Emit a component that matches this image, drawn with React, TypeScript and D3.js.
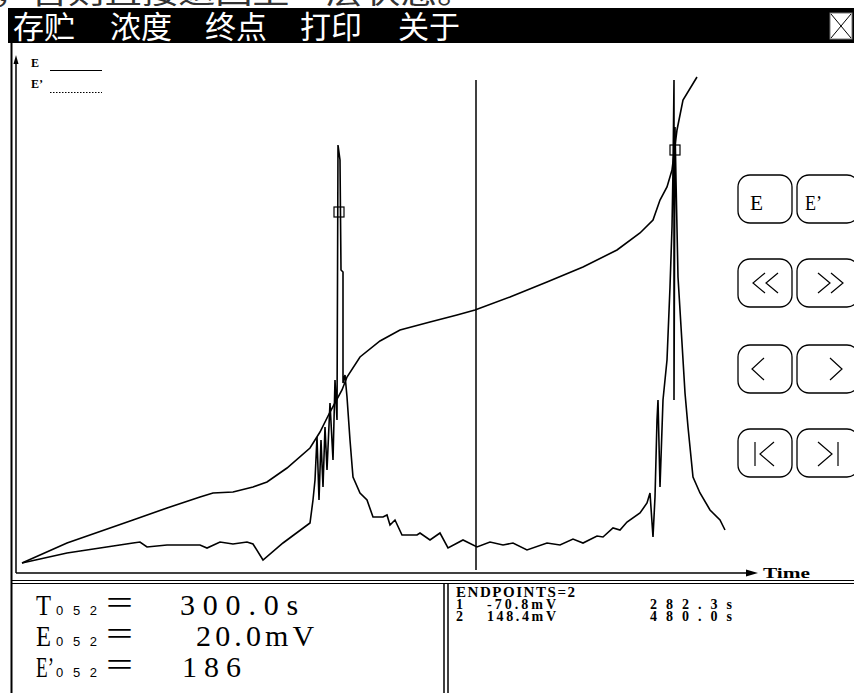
import React from 'react';
import * as d3 from 'd3';

// menu bar
const menuItems = ['存贮', '浓度', '终点', '打印', '关于'];
const menuX = [13, 110, 205, 300, 398];

// E curve (titration potential), time in s, value in mV-ish units
const eTime = [0, 22.5, 55.5, 72.5, 89, 95.5, 105.5, 115.5, 122.5, 132.5, 144, 149, 154, 160, 162.5, 169, 179, 189, 204, 217.5, 226.5, 244, 262.5, 280.5, 297.5, 309, 315.5, 319, 322.5, 325, 327.5, 330.5, 337.5];
const eValue = [1, 11, 22.5, 28.5, 34, 36, 36.5, 39, 41.5, 48.5, 58.5, 66.5, 76.5, 87.5, 94, 104, 112, 117.5, 121.5, 125, 127.5, 134, 141.5, 149, 157.5, 166, 172.5, 182.5, 189, 197.5, 217.5, 232.5, 244];

// E' curve (first derivative)
const dTime = [0, 22.5, 39, 55.5, 59, 62.5, 72.5, 89, 92.5, 99, 105.5, 112.5, 115.5, 120.5, 130.5, 144, 145.5, 146.5, 147.5, 148.5, 149.5, 150.5, 151.5, 152.5, 154, 155.5, 156.5, 157.5, 158, 159, 159.5, 160.5, 160.5, 161.5, 162.5, 164, 165, 165.5, 169, 172.5, 175.5, 180.5, 182.5, 184, 186.5, 190, 197.5, 199, 204, 209, 213, 220.5, 227.5, 234, 240.5, 245.5, 252.5, 262.5, 269, 275.5, 280.5, 287.5, 290.5, 295.5, 299, 302.5, 309, 312.5, 314, 315.5, 316.5, 317.5, 318, 319, 320.5, 322.5, 324, 325, 325.5, 326, 326, 326.5, 327, 328, 330, 331.5, 333, 335.5, 339, 344, 349, 351.5];
const dValue = [1, 6, 8.5, 11, 11.5, 9, 10, 10, 8.5, 11.5, 10.5, 11.5, 10.5, 2.5, 11, 21, 32.5, 42.5, 64, 32.5, 62.5, 39, 69, 47.5, 81, 52.5, 92.5, 72.5, 210, 202.5, 147.5, 146.5, 91, 95, 84, 62.5, 50, 44, 36, 32.5, 24, 24, 25, 20, 22.5, 15, 15, 16, 12.5, 16, 8.5, 12.5, 9, 11.5, 10, 11, 7.5, 11, 10, 13, 11, 14.5, 14, 18.5, 17.5, 21.5, 26, 31, 36, 14, 34, 72.5, 82.5, 39, 82.5, 102.5, 139, 169, 197.5, 242.5, 82.5, 219, 192.5, 144, 111, 86, 69, 44, 36, 27.5, 22.5, 17.5];

// endpoint markers and cursor
const endTime = [158.5, 326.5];
const endDeriv = [176.5, 207.5];
const cursorTime = 227;

// read-out panels
const readLabels = ['T', 'E', 'E’'];
const readValues = ['300.0s', '20.0mV', '186'];
const readValueX = [180, 196, 182];
const endpointRows = [
  ['1', '-70.8mV', '282.3s'],
  ['2', '148.4mV', '480.0s'],
];

const x = d3.scaleLinear().domain([0, 358]).range([22, 738]);
const y = d3.scaleLinear().domain([0, 260]).range([565, 45]);

const lineGen = d3.line<[number, number]>().x(d => x(d[0])).y(d => y(d[1]));
const ePath = lineGen(eTime.map((t, i) => [t, eValue[i]]));
const dPath = lineGen(dTime.map((t, i) => [t, dValue[i]]));

const chev = (cx: number, cy: number, dir: number, w = 12, h = 20) =>
  `M${cx - dir * w / 2},${cy - h / 2}L${cx + dir * w / 2},${cy}L${cx - dir * w / 2},${cy + h / 2}`;

const btnRows = [175, 259, 345, 429];

const serif = '"Liberation Serif", serif';

export default function App() {
  return (
    <svg width={854} height={693} style={{ position: 'absolute', left: 0, top: 0, background: '#fff' }}>
      <defs>
        <clipPath id="topclip"><rect x={0} y={0} width={854} height={8} /></clipPath>
      </defs>
      <g clipPath="url(#topclip)">
        <text x={-6} y={3} fontFamily='"Noto Sans CJK SC"' fontSize={30} fill="#333"
          textLength={480} lengthAdjust="spacingAndGlyphs">
          ，否则直接返回上一层状态。
        </text>
      </g>

      {/* menu bar */}
      <rect x={8} y={8} width={846} height={35} fill="#000" />
      {menuItems.map((m, i) => (
        <text key={m} x={menuX[i]} y={38} fill="#fff" fontFamily='"Noto Sans CJK SC"' fontSize={31}
          textLength={62} lengthAdjust="spacingAndGlyphs">{m}</text>
      ))}
      <rect x={830} y={13} width={22} height={26} fill="#fff" stroke="#777" />
      <path d="M831,14L851,38M851,14L831,38" stroke="#000" strokeWidth={1} />

      {/* plot frame */}
      <line x1={11.5} y1={43} x2={11.5} y2={693} stroke="#000" strokeWidth={2} />
      <line x1={16} y1={60} x2={16} y2={573} stroke="#000" strokeWidth={1.5} />
      <path d="M16,55L13.5,64L18.5,64Z" fill="#000" />
      <line x1={16} y1={573} x2={748} y2={573} stroke="#000" strokeWidth={1.5} />
      <path d="M758,573L746,569.5L746,576.5Z" fill="#000" />
      <text x={763} y={578} fontFamily={serif} fontWeight="bold" fontSize={15} textLength={47} lengthAdjust="spacingAndGlyphs">Time</text>

      {/* legend */}
      <text x={31} y={67} fontFamily={serif} fontWeight="bold" fontSize={12}>E</text>
      <line x1={50} y1={70.5} x2={102} y2={70.5} stroke="#000" strokeWidth={1} />
      <text x={31} y={88} fontFamily={serif} fontWeight="bold" fontSize={12}>E’</text>
      <line x1={50} y1={92.5} x2={102} y2={92.5} stroke="#000" strokeWidth={1} strokeDasharray="1.5,1.5" />

      {/* cursor */}
      <line x1={x(cursorTime)} y1={80} x2={x(cursorTime)} y2={570} stroke="#000" strokeWidth={1.5} />

      {/* curves */}
      <path d={ePath ?? ''} fill="none" stroke="#000" strokeWidth={1.6} />
      <path d={dPath ?? ''} fill="none" stroke="#000" strokeWidth={1.6} />
      {endTime.map((t, i) => (
        <rect key={i} x={x(t) - 5} y={y(endDeriv[i]) - 5} width={10} height={10} fill="none" stroke="#000" strokeWidth={1.2} />
      ))}

      {/* buttons */}
      {btnRows.map((by, r) => (
        <g key={r} fill="none" stroke="#000" strokeWidth={1.3}>
          <rect x={738} y={by} width={54} height={48} rx={12} />
          <rect x={797} y={by} width={62} height={48} rx={12} />
        </g>
      ))}
      <text x={750} y={210} fontFamily={serif} fontSize={22} textLength={13} lengthAdjust="spacingAndGlyphs">E</text>
      <text x={805} y={210} fontFamily={serif} fontSize={22} textLength={17} lengthAdjust="spacingAndGlyphs">E’</text>
      <g fill="none" stroke="#000" strokeWidth={1.2}>
        <path d={chev(759, 283, -1)} />
        <path d={chev(772, 283, -1)} />
        <path d={chev(824, 283, 1)} />
        <path d={chev(837, 283, 1)} />
        <path d={chev(758, 369, -1, 12, 22)} />
        <path d={chev(836, 369, 1, 12, 22)} />
        <path d={chev(767, 454, -1, 14, 24)} />
        <path d="M755,442L755,466" />
        <path d={chev(825, 454, 1, 14, 24)} />
        <path d="M838,442L838,466" />
      </g>

      {/* bottom panels */}
      <line x1={11} y1={580.5} x2={854} y2={580.5} stroke="#000" strokeWidth={1.2} />
      <line x1={11} y1={583.5} x2={854} y2={583.5} stroke="#000" strokeWidth={1.2} />
      <line x1={444} y1={583} x2={444} y2={693} stroke="#000" strokeWidth={1.5} />
      <line x1={448} y1={583} x2={448} y2={693} stroke="#000" strokeWidth={1.5} />

      {readLabels.map((lab, i) => {
        const base = [615, 646, 677][i];
        return (
          <g key={lab} fontFamily={serif}>
            <text x={36} y={base} fontSize={29} textLength={lab.length > 1 ? 18 : 15} lengthAdjust="spacingAndGlyphs">{lab}</text>
            <text x={56} y={base} fontFamily='"Liberation Sans", sans-serif' fontSize={13} textLength={41} lengthAdjust="spacing">052</text>
            <text x={106} y={base - 1} fontSize={34} textLength={27} lengthAdjust="spacingAndGlyphs">=</text>
            <text x={readValueX[i]} y={base} fontSize={30} textLength={readValues[i].length * 19.7} lengthAdjust="spacing">{readValues[i]}</text>
          </g>
        );
      })}

      <text x={456} y={597} fontFamily={serif} fontWeight="bold" fontSize={15} textLength={119} lengthAdjust="spacing">ENDPOINTS=2</text>
      {endpointRows.map((row, i) => {
        const base = 609 + i * 12;
        return (
          <g key={i} fontFamily={serif} fontWeight="bold" fontSize={14}>
            <text x={456} y={base}>{row[0]}</text>
            <text x={487} y={base} textLength={69} lengthAdjust="spacing">{row[1]}</text>
            <text x={650} y={base} textLength={82} lengthAdjust="spacing">{row[2]}</text>
          </g>
        );
      })}
    </svg>
  );
}
